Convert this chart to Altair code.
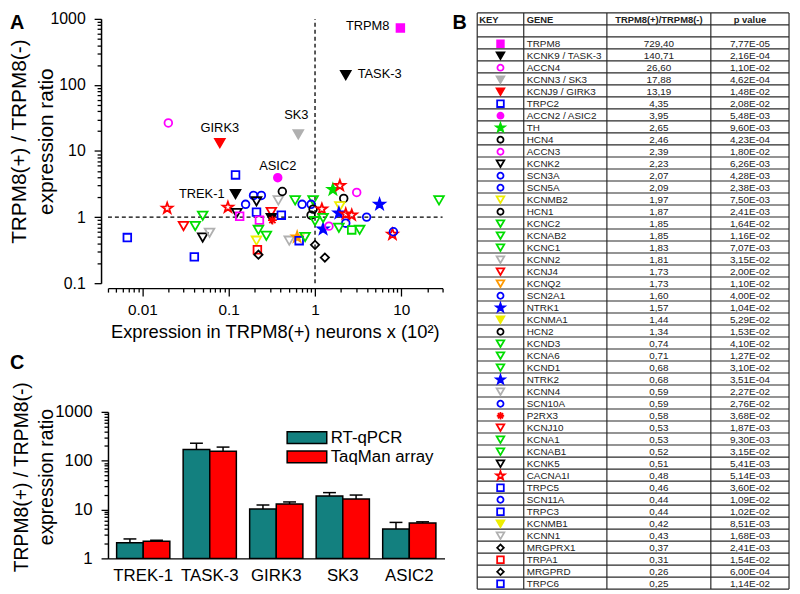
import json
import altair as alt
import pandas as pd

FONT = "Liberation Sans"
W, H = 790, 582

M, K, GY, R, B, GR, Y, O = "#ff00ff", "#000000", "#b0b0b0", "#ff0000", "#0000ff", "#00dd00", "#eeee00", "#ff9900"
TEAL, RED = "#13807f", "#ff0000"

STAR = "M0,-1L0.235,-0.324L0.951,-0.309L0.38,0.124L0.588,0.809L0,0.4L-0.588,0.809L-0.38,0.124L-0.951,-0.309L-0.235,-0.324Z"
AST = "M-1,0L1,0M0,-1L0,1M-0.7,-0.7L0.7,0.7M-0.7,0.7L0.7,-0.7"
SHAPES = {"sq": "square", "tri": "triangle-down", "cir": "circle", "star": STAR, "dia": "diamond", "ast": AST}
SIZE_A = {"sq": 60, "tri": 95, "cir": 60, "star": 125, "dia": 70, "ast": 80}
SIZE_T = {"sq": 45, "tri": 60, "cir": 38, "star": 80, "dia": 45, "ast": 55}

# ---------------- Panel A: scatter ----------------
a_expr = [9.74, 2.27, 0.020, 0.64, 0.079, 0.12, 0.37, 0.12, 0.0194, 0.0067,
          0.030, 0.041, 0.050, 0.050, 0.060, 0.040, 0.098, 0.124, 0.134, 0.157,
          0.194, 0.239, 0.210, 0.210, 0.227, 0.312, 0.312, 0.321, 0.407, 0.376,
          0.418, 0.221, 0.273, 0.210, 0.215, 0.221, 0.589, 0.95, 0.709, 0.90,
          0.95, 0.90, 0.503, 0.621, 0.655, 0.767, 1.0, 1.30, 1.0, 1.20,
          1.24, 1.45, 1.61, 1.94, 2.15, 1.94, 1.89, 2.27, 2.66, 3.04,
          2.27, 1.89, 2.66, 3.29, 3.96, 5.59, 7.88, 8.09, 27.3, 1.24]
a_ratio = [729.4, 140.7, 26.6, 17.9, 13.2, 4.35, 3.95, 2.23, 1.36, 0.49,
           0.73, 0.73, 1.05, 0.49, 0.58, 0.25, 1.41, 1.15, 1.03, 1.56,
           2.13, 2.13, 1.73, 1.19, 0.90, 1.19, 0.97, 0.90, 1.07, 1.79,
           2.44, 0.64, 0.52, 0.44, 0.32, 0.27, 1.79, 1.79, 1.56, 1.56,
           1.32, 1.07, 0.44, 0.50, 0.44, 0.50, 0.38, 0.244, 0.87, 1.32,
           0.66, 0.73, 2.62, 3.0, 1.92, 1.46, 1.15, 1.11, 1.07, 2.36,
           0.81, 0.69, 0.64, 0.64, 1.0, 1.56, 0.55, 0.60, 1.79, 0.97]
a_shape = ["sq", "tri", "cir", "tri", "tri", "sq", "cir", "tri", "star", "sq",
           "tri", "tri", "tri", "tri", "tri", "sq", "star", "tri", "sq", "cir",
           "cir", "cir", "tri", "sq", "sq", "tri", "tri", "ast", "sq", "tri",
           "cir", "tri", "tri", "tri", "sq", "dia", "tri", "tri", "cir", "cir",
           "cir", "cir", "tri", "star", "sq", "tri", "dia", "dia", "tri", "star",
           "star", "cir", "star", "star", "cir", "tri", "star", "star", "star", "cir",
           "cir", "tri", "sq", "tri", "cir", "star", "star", "cir", "tri", "tri"]
a_color = [M, K, M, GY, R, B, M, K, R, B,
           R, GR, GR, K, GY, B, R, K, M, B,
           B, B, K, B, M, R, K, R, B, GY,
           K, GR, GR, Y, R, K, GR, GR, B, B,
           K, K, GY, O, B, GR, K, K, GR, R,
           B, M, GR, R, K, Y, B, R, R, M,
           B, GR, GR, GR, B, B, R, B, GR, GR]
a_filled = [1, 1, 0, 1, 1, 0, 1, 1, 0, 0,
            0, 0, 0, 0, 0, 0, 0, 0, 0, 0,
            0, 0, 0, 0, 0, 0, 1, 0, 0, 0,
            0, 0, 0, 0, 0, 0, 0, 0, 0, 0,
            0, 0, 0, 1, 0, 0, 0, 0, 0, 0,
            1, 0, 1, 0, 0, 0, 1, 0, 0, 0,
            0, 0, 0, 0, 0, 1, 0, 0, 0, 0]

a_labels = ["TRPM8", "TASK-3", "SK3", "GIRK3", "ASIC2", "TREK-1"]
a_label_pt = [0, 1, 3, 4, 6, 7]
a_label_style = [("right", -11, -2), ("left", 12, -1), ("center", -2, -19),
                 ("center", 0, -15), ("center", 0, -12), ("right", -11, 0)]

# ---------------- Panel B: table ----------------
genes = ["TRPM8", "KCNK9 / TASK-3", "ACCN4", "KCNN3 / SK3", "KCNJ9 / GIRK3", "TRPC2",
         "ACCN2 / ASIC2", "TH", "HCN4", "ACCN3",
         "KCNK2", "SCN3A", "SCN5A", "KCNMB2", "HCN1", "KCNC2", "KCNAB2", "KCNC1", "KCNN2", "KCNJ4",
         "KCNQ2", "SCN2A1", "NTRK1", "KCNMA1", "HCN2", "KCND3", "KCNA6", "KCND1", "NTRK2", "KCNN4",
         "SCN10A", "P2RX3", "KCNJ10", "KCNA1", "KCNAB1", "KCNK5", "CACNA1I", "TRPC5", "SCN11A", "TRPC3",
         "KCNMB1", "KCNN1", "MRGPRX1", "TRPA1", "MRGPRD", "TRPC6"]
ratios = [729.40, 140.71, 26.60, 17.88, 13.19, 4.35, 3.95, 2.65, 2.46, 2.39,
          2.23, 2.07, 2.09, 1.97, 1.87, 1.85, 1.85, 1.83, 1.81, 1.73,
          1.73, 1.60, 1.57, 1.44, 1.34, 0.74, 0.71, 0.68, 0.68, 0.59,
          0.59, 0.58, 0.53, 0.53, 0.52, 0.51, 0.48, 0.46, 0.44, 0.44,
          0.42, 0.43, 0.37, 0.31, 0.26, 0.25]
pvals = [7.77e-05, 2.16e-04, 1.10e-02, 4.62e-04, 1.48e-02, 2.08e-02, 5.48e-03, 9.60e-03, 4.23e-04, 1.80e-02,
         6.26e-03, 4.28e-03, 2.38e-03, 7.50e-03, 2.41e-03, 1.64e-02, 1.16e-02, 7.07e-03, 3.15e-02, 2.00e-02,
         1.10e-02, 4.00e-02, 1.04e-02, 5.29e-02, 1.53e-02, 4.10e-02, 1.27e-02, 3.10e-02, 3.51e-04, 2.27e-02,
         2.76e-02, 3.68e-02, 1.87e-03, 9.30e-03, 3.15e-02, 5.41e-03, 5.14e-03, 3.60e-02, 1.09e-02, 1.02e-02,
         8.51e-03, 1.68e-03, 2.41e-03, 1.54e-02, 6.00e-04, 1.14e-02]
key_shape = ["sq", "tri", "cir", "tri", "tri", "sq", "cir", "star", "cir", "cir",
             "tri", "cir", "cir", "tri", "cir", "tri", "tri", "tri", "tri", "tri",
             "tri", "cir", "star", "tri", "cir", "tri", "tri", "tri", "star", "tri",
             "cir", "ast", "tri", "tri", "tri", "tri", "star", "sq", "cir", "sq",
             "tri", "tri", "dia", "sq", "dia", "sq"]
key_color = [M, K, M, GY, R, B, M, GR, K, M,
             K, B, B, Y, K, GR, GR, GR, GY, R,
             O, B, B, Y, K, GR, GR, GR, B, GY,
             B, R, R, GR, GR, K, R, B, B, B,
             Y, GY, K, R, K, B]
key_filled = [1, 1, 0, 1, 1, 0, 1, 1, 0, 0,
              0, 0, 0, 0, 0, 0, 0, 0, 0, 0,
              0, 0, 1, 1, 0, 0, 0, 0, 1, 0,
              0, 0, 0, 0, 0, 0, 0, 0, 0, 0,
              1, 0, 0, 0, 0, 0]
tbl_headers = ["KEY", "GENE", "TRPM8(+)/TRPM8(-)", "p value"]

# ---------------- Panel C: bars ----------------
c_genes = ["TREK-1", "TASK-3", "GIRK3", "SK3", "ASIC2"]
methods = ["RT-qPCR", "TaqMan array"]
c_qpcr = [2.1, 170, 10.3, 19.0, 4.0]
c_qpcr_err = [2.5, 228, 12.4, 22.2, 5.45]
c_taqman = [2.24, 157, 13.0, 16.5, 5.3]
c_taqman_err = [2.35, 190, 14.3, 19.8, 5.6]

panel_letters = ["A", "B", "C"]
a_ytitle = "TRPM8(+) / TRPM8(-)\nexpression ratio"
a_xtitle = "Expression in TRPM8(+) neurons x (10\u00b2)"
c_ytitle = "TRPM8(+) / TRPM8(-)\nexpression ratio"


def decade_ticks(e0, e1):
    return [round(m * 10 ** e, 8) for e in range(e0, e1) for m in range(1, 10)]


def log_axis(orient, offset, values, majors, lsize, lpad, maj=7, mnr=4):
    test = f"indexof({json.dumps(majors)}, datum.value) >= 0"
    return alt.Axis(orient=orient, offset=offset, values=values, title=None, grid=False,
                    labelExpr=f"{test} ? format(datum.value, '~g') : ''",
                    tickSize={"condition": {"test": test, "value": maj}, "value": mnr},
                    tickColor="black", tickWidth=1.3, domainColor="black", domainWidth=1.5,
                    labelFont=FONT, labelFontSize=lsize, labelColor="black", labelPadding=lpad,
                    labelOverlap=False, labelFlush=False)


# ---- Panel A build ----
AXS = alt.Scale(type="log", domain=[0.004, 30], range=[99, 437], nice=False)
AYS = alt.Scale(type="log", domain=[0.1, 1000], range=[273, 6], nice=False)
ax_vals = [v for v in decade_ticks(-3, 2) if 0.004 <= v <= 30]
AXA = log_axis("bottom", 278 - H, ax_vals, [0.01, 0.1, 1, 10], 15.5, 7, 8, 4)
AYA = log_axis("left", -92, decade_ticks(-1, 3) + [1000], [0.1, 1, 10, 100, 1000], 16, 9, 7, 4)

a_df = pd.DataFrame({
    "x": a_expr, "y": a_ratio,
    "shape": [SHAPES[s] for s in a_shape],
    "sz": [SIZE_A[s] for s in a_shape],
    "col": a_color,
    "fc": [c if f else "transparent" for c, f in zip(a_color, a_filled)],
    "order": list(range(len(a_expr))),
})
one = pd.DataFrame({"d": [0]})

hrule = alt.Chart(one).mark_rule(color="black", strokeWidth=1.3, strokeDash=[4, 3]).encode(
    x=alt.XDatum(0.004, scale=AXS, axis=AXA, type="quantitative"), x2=alt.X2Datum(30),
    y=alt.YDatum(1, scale=AYS, axis=AYA, type="quantitative"))
vrule = alt.Chart(one).mark_rule(color="black", strokeWidth=1.3, strokeDash=[4, 3]).encode(
    x=alt.XDatum(1, scale=AXS, axis=AXA, type="quantitative"),
    y=alt.YDatum(0.1, scale=AYS, axis=AYA, type="quantitative"), y2=alt.Y2Datum(1000))
pts = alt.Chart(a_df).mark_point(opacity=1, strokeWidth=1.8).encode(
    x=alt.X("x:Q", scale=AXS, axis=AXA), y=alt.Y("y:Q", scale=AYS, axis=AYA),
    shape=alt.Shape("shape:N", scale=None), size=alt.Size("sz:Q", scale=None),
    stroke=alt.Stroke("col:N", scale=None), fill=alt.Fill("fc:N", scale=None),
    order=alt.Order("order:Q"))
lab_layers = []
for name, pi, (al, dx, dy) in zip(a_labels, a_label_pt, a_label_style):
    d = pd.DataFrame({"x": [a_expr[pi]], "y": [a_ratio[pi]], "t": [name]})
    lab_layers.append(alt.Chart(d).mark_text(font=FONT, fontSize=13, color="black", align=al,
                                            baseline="middle", dx=dx, dy=dy).encode(
        x=alt.X("x:Q", scale=AXS, axis=AXA), y=alt.Y("y:Q", scale=AYS, axis=AYA), text="t:N"))
panelA = alt.layer(hrule, vrule, pts, *lab_layers)

# ---- Panel C build ----
c_df = pd.DataFrame({
    "gene": c_genes * 2,
    "method": [methods[0]] * 5 + [methods[1]] * 5,
    "val": c_qpcr + c_taqman,
    "err": c_qpcr_err + c_taqman_err,
})
CXS = alt.Scale(domain=c_genes, range=[99, 439], paddingInner=0.2, paddingOuter=0.13)
CXO = alt.Scale(domain=methods, paddingInner=0, paddingOuter=0)
CYS = alt.Scale(type="log", domain=[1, 1000], range=[551, 403], nice=False)
CXA = alt.Axis(orient="bottom", offset=551 - H, ticks=False, title=None, labelAngle=0,
               labelFont=FONT, labelFontSize=17, labelColor="black", labelPadding=9,
               domainColor="black", domainWidth=1.5, grid=False)
CYA = log_axis("left", -99, decade_ticks(0, 3) + [1000], [1, 10, 100, 1000], 17, 9, 7, 4)
LEGSYM = "M-2.5,-0.75L2.5,-0.75L2.5,0.75L-2.5,0.75Z"
cx = alt.X("gene:N", scale=CXS, axis=CXA, sort=c_genes)
cxo = alt.XOffset("method:N", scale=CXO, sort=methods)
bars = alt.Chart(c_df).mark_bar(stroke="black", strokeWidth=1.5, opacity=1).encode(
    x=cx, xOffset=cxo, y=alt.Y("val:Q", scale=CYS, axis=CYA), y2=alt.datum(1),
    color=alt.Color("method:N", scale=alt.Scale(domain=methods, range=[TEAL, RED]),
                    legend=alt.Legend(orient="none", legendX=291, legendY=420, title=None,
                                      symbolType=LEGSYM, symbolSize=256, symbolStrokeColor="black",
                                      symbolStrokeWidth=1.5, symbolOpacity=1, labelFont=FONT,
                                      labelFontSize=17, labelColor="black", labelOffset=15,
                                      rowPadding=1.5, padding=0)))
errs = alt.Chart(c_df).mark_rule(color="black", strokeWidth=1.5).encode(
    x=cx, xOffset=cxo, y=alt.Y("val:Q", scale=CYS, axis=CYA), y2="err:Q")
caps = alt.Chart(c_df).mark_tick(color="black", thickness=1.5, size=13, opacity=1).encode(
    x=cx, xOffset=cxo, y=alt.Y("err:Q", scale=CYS, axis=CYA))
panelC = alt.layer(bars, errs, caps)

# ---- Panel B build ----
col_edges = [0, 47, 131, 236, 315]
TXS = alt.Scale(domain=[0, 315], range=[472, 787], nice=False, zero=False)
TYS = alt.Scale(domain=[0, 48], range=[0, 582], nice=False, zero=False)
tx = lambda f: alt.X(f, scale=TXS, axis=None)
ty = lambda f: alt.Y(f, scale=TYS, axis=None)

hl = pd.DataFrame({"yb": list(range(49)), "x0": 0, "x1": 315})
vl = pd.DataFrame({"xb": col_edges, "y0": 0, "y1": 48})
hlines = alt.Chart(hl).mark_rule(color="#2a2a2a", strokeWidth=1.2).encode(
    x=tx("x0:Q"), x2="x1:Q", y=ty("yb:Q"))
vlines = alt.Chart(vl).mark_rule(color="#2a2a2a", strokeWidth=1.2).encode(
    x=tx("xb:Q"), y=ty("y0:Q"), y2="y1:Q")

rows = pd.DataFrame({
    "gene": genes,
    "rt": [f"{v:.2f}".replace(".", ",") for v in ratios],
    "pt": [f"{p:.2E}".replace(".", ",") for p in pvals],
    "y": [i + 2 + 0.56 for i in range(len(genes))],
    "shape": [SHAPES[s] for s in key_shape],
    "sz": [SIZE_T[s] for s in key_shape],
    "col": key_color,
    "fc": [c if f else "transparent" for c, f in zip(key_color, key_filled)],
    "gx": 50, "rx": 183.5, "px": 275.5, "kx": 23.5,
})
hdr_left = pd.DataFrame({"t": tbl_headers[:2], "x": [2, 50], "y": [0.55, 0.55]})
hdr_center = pd.DataFrame({"t": tbl_headers[2:], "x": [183.5, 275.5], "y": [0.55, 0.55]})
tstyle = dict(font=FONT, fontSize=10, color="#222222", baseline="middle")
gene_txt = alt.Chart(rows).mark_text(align="left", **tstyle).encode(x=tx("gx:Q"), y=ty("y:Q"), text="gene:N")
rat_txt = alt.Chart(rows).mark_text(align="center", **tstyle).encode(x=tx("rx:Q"), y=ty("y:Q"), text="rt:N")
p_txt = alt.Chart(rows).mark_text(align="center", **tstyle).encode(x=tx("px:Q"), y=ty("y:Q"), text="pt:N")
h1 = alt.Chart(hdr_left).mark_text(align="left", font=FONT, fontSize=9.5, fontWeight="bold",
                                   color="#222222", baseline="middle").encode(x=tx("x:Q"), y=ty("y:Q"), text="t:N")
h2 = alt.Chart(hdr_center).mark_text(align="center", font=FONT, fontSize=9.5, fontWeight="bold",
                                     color="#222222", baseline="middle").encode(x=tx("x:Q"), y=ty("y:Q"), text="t:N")
keys = alt.Chart(rows).mark_point(opacity=1, strokeWidth=1.8).encode(
    x=tx("kx:Q"), y=ty("y:Q"), shape=alt.Shape("shape:N", scale=None),
    size=alt.Size("sz:Q", scale=None), stroke=alt.Stroke("col:N", scale=None),
    fill=alt.Fill("fc:N", scale=None))
panelB = alt.layer(hlines, vlines, gene_txt, rat_txt, p_txt, h1, h2, keys)

# ---- decorations: panel letters and titles ----
def text_at(t, x, y, **kw):
    d = pd.DataFrame({"t": [t]})
    return alt.Chart(d).mark_text(font=FONT, color="black", lineBreak="\n", **kw).encode(
        x=alt.value(x), y=alt.value(y), text="t:N")

decor = [
    text_at(panel_letters[0], 0, 0, fontSize=20, fontWeight="bold", align="left", baseline="top"),
    text_at(panel_letters[1], 447, 0, fontSize=20, fontWeight="bold", align="left", baseline="top"),
    text_at(panel_letters[2], 0, 344, fontSize=20, fontWeight="bold", align="left", baseline="top"),
    text_at(a_ytitle, 10, 130, fontSize=21, angle=270, align="center", baseline="middle", lineHeight=27),
    text_at(a_xtitle, 268, 322, fontSize=18.5, align="center", baseline="middle"),
    text_at(c_ytitle, 12.5, 469, fontSize=19.5, angle=270, align="center", baseline="middle", lineHeight=25),
]

chart = alt.layer(panelA, panelC, panelB, *decor).resolve_scale(
    x="independent", y="independent").resolve_axis(
    x="independent", y="independent").properties(
    width=W, height=H, padding=0, background="white").configure_view(stroke=None)

chart.save("out.html", embed_options={"renderer": "svg", "actions": False})
